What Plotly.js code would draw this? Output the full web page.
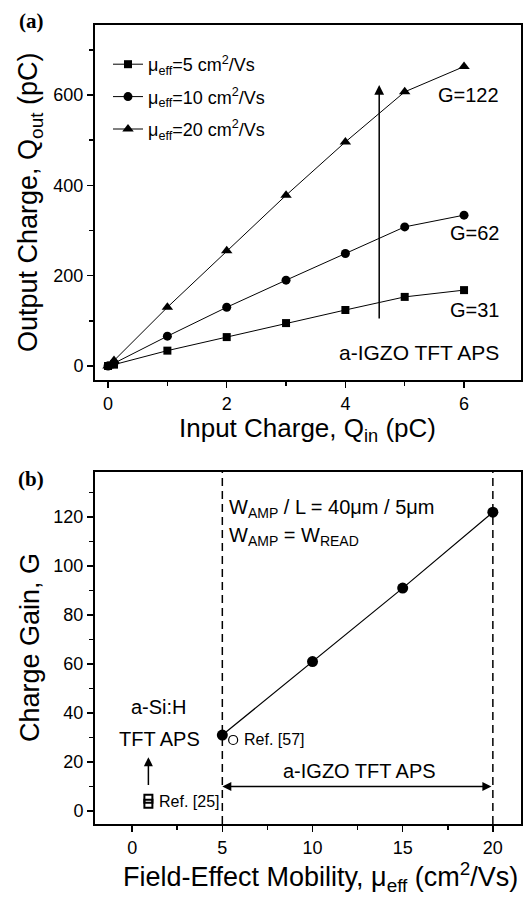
<!DOCTYPE html>
<html>
<head>
<meta charset="utf-8">
<script src="https://cdn.plot.ly/plotly-3.0.1.min.js"></script>
<style>html,body{margin:0;padding:0;background:#fff;}#chart{width:530px;height:897px;}</style>
</head>
<body>
<div id="chart"></div>
<script>
// ---------- Data: panel (a) ----------
const qin = [0, 0.1, 1, 2, 3, 4, 5, 6];
const qoutMu5 = [0, 3, 34, 64, 95, 124, 153, 168];
const qoutMu10 = [0, 6, 66, 130, 190, 249, 308, 334];
const qoutMu20 = [0, 12, 130, 255, 378, 496, 607, 663];
const seriesNames = ['μ<sub>eff</sub>=5 cm<sup>2</sup>/Vs', 'μ<sub>eff</sub>=10 cm<sup>2</sup>/Vs', 'μ<sub>eff</sub>=20 cm<sup>2</sup>/Vs'];
const gainLabels = ['G=31', 'G=62', 'G=122'];
const gainLabelY = [124, 294, 600];
const xTicksA = [0, 2, 4, 6];
const xMinorA = [1, 3, 5];
const yTicksA = [0, 200, 400, 600];
const yMinorA = [100, 300, 500, 700];

// ---------- Data: panel (b) ----------
const mobility = [5, 10, 15, 20];
const chargeGain = [31, 61, 91, 122];
const ref57Mu = [5.6];
const ref57Gain = [29];
const ref25Mu = [0.9, 0.9];
const ref25Gain = [3, 5];
const igzoRangeMu = [5, 20];
const xTicksB = [0, 5, 10, 15, 20];
const xMinorB = [2.5, 7.5, 12.5, 17.5];
const yTicksB = [0, 20, 40, 60, 80, 100, 120];
const yMinorB = [10, 30, 50, 70, 90, 110, 130];

// ---------- Layout constants ----------
const W = 530, H = 897;
const F = 'Arial, "Liberation Sans", sans-serif';
const FS = '"Liberation Serif", "Times New Roman", serif';
const xDom = [95 / W, 521 / W];
const yDomA = [1 - 380 / H, 1 - 25 / H];
const yDomB = [1 - 824 / H, 1 - 472 / H];
const rangeXA = [-0.22, 6.96], rangeYA = [-31, 755];
const rangeXB = [-2.06, 21.56], rangeYB = [-5.3, 138.4];

function mainAxis(extra) {
  return Object.assign({
    showline: true, linecolor: '#000', linewidth: 2, mirror: true,
    ticks: 'outside', ticklen: 6, tickwidth: 1.5, tickcolor: '#000',
    showgrid: false, zeroline: false, automargin: false, fixedrange: true,
    tickmode: 'array',
    tickfont: {family: F, size: 18, color: '#000'}
  }, extra);
}
function mirrorAxis(extra) {
  return Object.assign({
    showline: false, ticks: 'inside', ticklen: 7, tickwidth: 1.5, tickcolor: '#000',
    showticklabels: false, showgrid: false, zeroline: false, automargin: false,
    tickmode: 'array', fixedrange: true
  }, extra);
}
function minor(vals, dir) {
  return {tickmode: 'array', tickvals: vals, ticks: dir, ticklen: 4, tickwidth: 1.5, tickcolor: '#000', showgrid: false};
}

const symbolsA = ['square', 'circle', 'triangle-up'];
const sizesA = [8, 9, 10];
const seriesA = [qoutMu5, qoutMu10, qoutMu20];

const traces = seriesA.map((ys, i) => ({
  type: 'scatter', mode: 'lines+markers', x: qin, y: ys, name: seriesNames[i],
  xaxis: 'x', yaxis: 'y', legendgroup: 'g' + i,
  line: {color: '#000', width: 1},
  marker: {symbol: symbolsA[i], size: sizesA[i], color: '#000'}
}));

traces.push({
  type: 'scatter', mode: 'lines+markers', x: mobility, y: chargeGain, showlegend: false,
  xaxis: 'x3', yaxis: 'y3', line: {color: '#000', width: 1.2},
  marker: {symbol: 'circle', size: 11, color: '#000'}
});
traces.push({
  type: 'scatter', mode: 'markers', x: ref57Mu, y: ref57Gain, showlegend: false,
  xaxis: 'x3', yaxis: 'y3',
  marker: {symbol: 'circle-open', size: 9, color: '#000', line: {width: 1.2, color: '#000'}}
});
traces.push({
  type: 'scatter', mode: 'markers', x: ref25Mu, y: ref25Gain, showlegend: false,
  xaxis: 'x3', yaxis: 'y3',
  marker: {symbol: 'square-open', size: 8, color: '#000', line: {width: 2, color: '#000'}}
});

function txt(o) {
  return Object.assign({showarrow: false, xanchor: 'center', yanchor: 'middle'}, o);
}

const annotations = [
  // panel labels
  txt({xref: 'paper', yref: 'paper', x: 31 / W, y: 1 - 21 / H, text: '<b>(a)</b>', font: {family: FS, size: 21, color: '#000'}}),
  txt({xref: 'paper', yref: 'paper', x: 31 / W, y: 1 - 479 / H, text: '<b>(b)</b>', font: {family: FS, size: 21, color: '#000'}}),
  // axis titles
  txt({xref: 'paper', yref: 'paper', x: 30 / W, y: 1 - 203 / H, textangle: -90, text: 'Output Charge, Q<sub>out</sub> (pC)', font: {family: F, size: 27, color: '#000'}}),
  txt({xref: 'paper', yref: 'paper', x: 307 / W, y: 1 - 429 / H, text: 'Input Charge, Q<sub>in</sub> (pC)', font: {family: F, size: 26, color: '#000'}}),
  txt({xref: 'paper', yref: 'paper', x: 30 / W, y: 1 - 648 / H, textangle: -90, text: 'Charge Gain, G', font: {family: F, size: 27, color: '#000'}}),
  txt({xref: 'paper', yref: 'paper', x: 320 / W, y: 1 - 877 / H, text: 'Field-Effect Mobility, μ<sub>eff</sub> (cm<sup>2</sup>/Vs)', font: {family: F, size: 27, color: '#000'}}),
  // panel (a) arrow and label
  {xref: 'x', yref: 'y', axref: 'x', ayref: 'y', x: 4.57, y: 622, ax: 4.57, ay: 102, text: '', showarrow: true, arrowhead: 2, arrowsize: 1.3, arrowwidth: 1.5, arrowcolor: '#000', standoff: 0},
  txt({xref: 'x', yref: 'y', x: 6.62, y: 31, xanchor: 'right', text: 'a-IGZO TFT APS', font: {family: F, size: 21, color: '#000'}}),
  // panel (b)
  txt({xref: 'x3', yref: 'y3', x: 5.25, y: 123.7, xanchor: 'left', text: 'W<sub>AMP</sub> / L = 40μm / 5μm', font: {family: F, size: 20, color: '#000'}}),
  txt({xref: 'x3', yref: 'y3', x: 5.25, y: 112.2, xanchor: 'left', text: 'W<sub>AMP</sub> = W<sub>READ</sub>', font: {family: F, size: 20, color: '#000'}}),
  txt({xref: 'x3', yref: 'y3', x: 1.5, y: 42.5, text: 'a-Si:H', font: {family: F, size: 20, color: '#000'}}),
  txt({xref: 'x3', yref: 'y3', x: 1.5, y: 29.5, text: 'TFT APS', font: {family: F, size: 20, color: '#000'}}),
  {xref: 'x3', yref: 'y3', axref: 'x3', ayref: 'y3', x: 0.9, y: 22, ax: 0.9, ay: 10, text: '', showarrow: true, arrowhead: 2, arrowsize: 1.2, arrowwidth: 1.5, arrowcolor: '#000', standoff: 0},
  txt({xref: 'x3', yref: 'y3', x: 1.35, y: 3.8, xanchor: 'left', text: 'Ref. [25]', font: {family: F, size: 16, color: '#000'}}),
  txt({xref: 'x3', yref: 'y3', x: 6.1, y: 29.4, xanchor: 'left', text: 'Ref. [57]', font: {family: F, size: 16, color: '#000'}}),
  txt({xref: 'x3', yref: 'y3', x: 12.6, y: 16.5, text: 'a-IGZO TFT APS', font: {family: F, size: 20, color: '#000'}}),
  {xref: 'x3', yref: 'y3', axref: 'x3', ayref: 'y3', x: igzoRangeMu[0], y: 10, ax: igzoRangeMu[1], ay: 10, text: '', showarrow: true, arrowside: 'end+start', arrowhead: 2, arrowsize: 1.2, arrowwidth: 1.5, arrowcolor: '#000', standoff: 0, startstandoff: 0}
];
gainLabels.forEach((t, i) => annotations.push(txt({
  xref: 'x', yref: 'y', x: 6.62, y: gainLabelY[i], xanchor: 'right', text: t,
  font: {family: F, size: 20, color: '#000'}
})));

const shapes = igzoRangeMu.map(v => ({
  type: 'line', xref: 'x3', yref: 'y3 domain', x0: v, x1: v, y0: 0, y1: 1,
  line: {color: '#000', width: 1.5, dash: '8px,5px'}
}));

const layout = {
  width: W, height: H,
  margin: {l: 0, r: 0, t: 0, b: 0},
  paper_bgcolor: '#fff', plot_bgcolor: '#fff',
  font: {family: F, color: '#000'},
  showlegend: true,
  legend: {
    x: 108 / W, y: 1 - 46 / H, xanchor: 'left', yanchor: 'top',
    bgcolor: 'rgba(0,0,0,0)', borderwidth: 0, tracegroupgap: 6,
    font: {family: F, size: 18, color: '#000'}
  },
  xaxis: mainAxis({domain: xDom, anchor: 'y', range: rangeXA, tickvals: xTicksA, minor: minor(xMinorA, 'outside')}),
  yaxis: mainAxis({domain: yDomA, anchor: 'x', range: rangeYA, tickvals: yTicksA, minor: minor(yMinorA, 'outside')}),
  xaxis2: mirrorAxis({overlaying: 'x', side: 'top', anchor: 'y2', range: rangeXA, tickvals: xTicksA, minor: minor(xMinorA, 'inside')}),
  yaxis2: mirrorAxis({overlaying: 'y', side: 'right', anchor: 'x2', range: rangeYA, tickvals: yTicksA, minor: minor(yMinorA, 'inside')}),
  xaxis3: mainAxis({domain: xDom, anchor: 'y3', range: rangeXB, tickvals: xTicksB, minor: minor(xMinorB, 'outside')}),
  yaxis3: mainAxis({domain: yDomB, anchor: 'x3', range: rangeYB, tickvals: yTicksB, minor: minor(yMinorB, 'outside')}),
  xaxis4: mirrorAxis({overlaying: 'x3', side: 'top', anchor: 'y4', range: rangeXB, tickvals: xTicksB, minor: minor(xMinorB, 'inside')}),
  yaxis4: mirrorAxis({overlaying: 'y3', side: 'right', anchor: 'x4', range: rangeYB, tickvals: yTicksB, minor: minor(yMinorB, 'inside')}),
  annotations: annotations,
  shapes: shapes
};

Plotly.newPlot('chart', traces, layout, {displayModeBar: false, staticPlot: true});
</script>
</body>
</html>
